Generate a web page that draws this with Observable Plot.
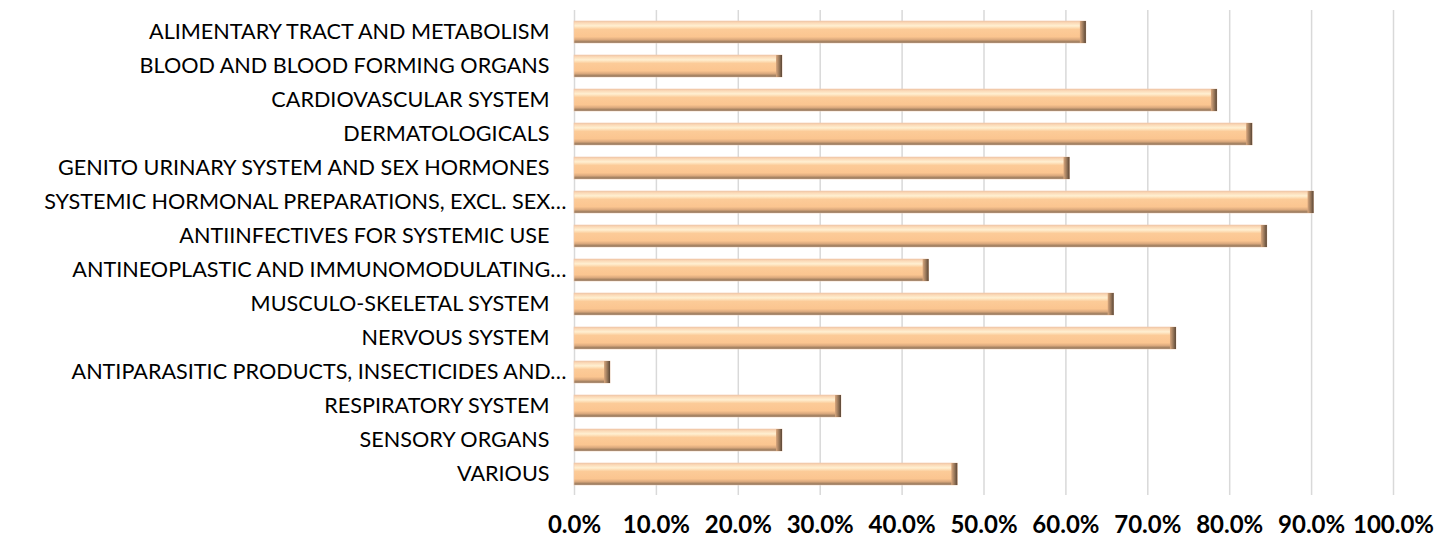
<!DOCTYPE html>
<html><head><meta charset="utf-8">
<script src="https://cdn.jsdelivr.net/npm/d3@7"></script>
<script src="https://cdn.jsdelivr.net/npm/@observablehq/plot@0.6"></script>
<style>body{margin:0;background:#fff;}</style>
</head><body><div id="chart"></div>
<script>
const categories = [
  "ALIMENTARY TRACT AND METABOLISM",
  "BLOOD AND BLOOD FORMING ORGANS",
  "CARDIOVASCULAR SYSTEM",
  "DERMATOLOGICALS",
  "GENITO URINARY SYSTEM AND SEX HORMONES",
  "SYSTEMIC HORMONAL PREPARATIONS, EXCL. SEX…",
  "ANTIINFECTIVES FOR SYSTEMIC USE",
  "ANTINEOPLASTIC AND IMMUNOMODULATING…",
  "MUSCULO-SKELETAL SYSTEM",
  "NERVOUS SYSTEM",
  "ANTIPARASITIC PRODUCTS, INSECTICIDES AND…",
  "RESPIRATORY SYSTEM",
  "SENSORY ORGANS",
  "VARIOUS"
];
const values = [0.625, 0.254, 0.785, 0.828, 0.605, 0.903, 0.846, 0.433, 0.659, 0.735, 0.044, 0.326, 0.254, 0.468];
const xTicks = [0, 0.1, 0.2, 0.3, 0.4, 0.5, 0.6, 0.7, 0.8, 0.9, 1.0];

const data = categories.map((c, i) => ({category: c, value: values[i]}));
const isTrunc = d => d.category.endsWith("…");

const svg = Plot.plot({
  width: 1434, height: 539,
  marginLeft: 574, marginRight: 41, marginTop: 10, marginBottom: 44,
  style: {fontFamily: "Lato, 'Open Sans', sans-serif", background: "#fff", color: "#000"},
  x: {domain: [0, 1], label: null},
  y: {domain: categories, axis: null, paddingInner: 0.36, paddingOuter: 0.18},
  marks: [
    Plot.gridX(xTicks, {stroke: "#d9d9d9", strokeOpacity: 1, strokeWidth: 1.5}),
    Plot.barX(data, {x: "value", y: "category", fill: "url(#barGrad)", stroke: "#f0cbb0", strokeWidth: 0.6}),
    Plot.barX(data, {x1: "value", x2: "value", y: "category", insetLeft: -6, fill: "url(#endGrad)"}),
    Plot.text(data.filter(d => !isTrunc(d)), {x: 0, y: "category", text: "category", textAnchor: "end", dx: -25, fontSize: 21.6, fill: "#000"}),
    Plot.text(data.filter(isTrunc), {x: 0, y: "category", text: "category", textAnchor: "end", dx: -8, fontSize: 21.6, fill: "#000"}),
    Plot.axisX(xTicks, {tickSize: 0, tickPadding: 20, tickFormat: d => (d * 100).toFixed(1) + "%", fontSize: 24, fontWeight: "bold", label: null})
  ]
});

const defs = d3.select(svg).insert("defs", ":first-child");
const g1 = defs.append("linearGradient").attr("id", "barGrad").attr("x1", 0).attr("y1", 0).attr("x2", 0).attr("y2", 1);
[[0, "#efc3a3"], [0.08, "#fbd9b6"], [0.22, "#fff0d2"], [0.38, "#fccb98"], [0.72, "#fbc590"], [0.84, "#dcaa7e"], [0.93, "#a88564"], [1, "#7d6450"]]
  .forEach(([o, c]) => g1.append("stop").attr("offset", o).attr("stop-color", c));
const g2 = defs.append("linearGradient").attr("id", "endGrad").attr("x1", 0).attr("y1", 0).attr("x2", 1).attr("y2", 0);
[[0, "#d9a77d"], [0.5, "#9c7a5c"], [1, "#5a4636"]]
  .forEach(([o, c]) => g2.append("stop").attr("offset", o).attr("stop-color", c));

document.getElementById("chart").appendChild(svg);
</script>
</body></html>
